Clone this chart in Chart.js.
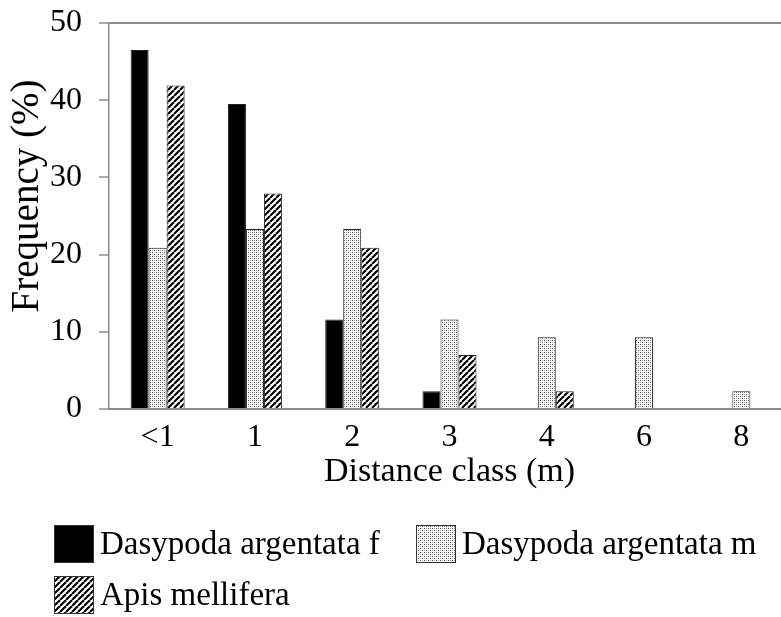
<!DOCTYPE html>
<html>
<head>
<meta charset="utf-8">
<script src="https://cdn.jsdelivr.net/npm/chart.js@4.4.1/dist/chart.umd.min.js"></script>
<style>
  html, body { margin: 0; padding: 0; background: #fff; overflow: hidden; }
  #wrap { position: relative; width: 800px; height: 617px; }
</style>
</head>
<body>
<div id="wrap"><canvas id="chart"></canvas></div>
<script>
// Distance classes (m) and frequency (%) of each group
const categories = ['<1', '1', '2', '3', '4', '6', '8'];
const seriesNames = ['Dasypoda argentata f', 'Dasypoda argentata m', 'Apis mellifera'];
const femaleValues = [46.5, 39.5, 11.6, 2.3, 0, 0, 0];
const maleValues = [20.9, 23.3, 23.3, 11.6, 9.3, 9.3, 2.3];
const apisValues = [41.9, 27.9, 20.9, 7.0, 2.3, 0, 0];
const yLabelStep = 10;

const SERIF = "'Liberation Serif', 'Times New Roman', Times, serif";
const AXIS_GRAY = '#8c8c8c';

// Fill patterns: fine stipple and diagonal hatch
function makeStipple() {
  const c = document.createElement('canvas');
  c.width = 4; c.height = 4;
  const g = c.getContext('2d');
  g.fillStyle = '#ffffff'; g.fillRect(0, 0, 4, 4);
  g.fillStyle = '#505050'; g.fillRect(0, 0, 1, 1); g.fillRect(2, 2, 1, 1);
  g.fillStyle = '#a8a8a8'; g.fillRect(2, 0, 1, 1); g.fillRect(0, 2, 1, 1);
  return g.createPattern(c, 'repeat');
}
function makeHatch() {
  const s = 6;
  const c = document.createElement('canvas');
  c.width = s; c.height = s;
  const g = c.getContext('2d');
  g.fillStyle = '#ffffff'; g.fillRect(0, 0, s, s);
  g.strokeStyle = '#000000'; g.lineWidth = 2.1;
  for (const k of [-s, 0, s]) {
    g.beginPath(); g.moveTo(k, s); g.lineTo(k + s, 0); g.stroke();
  }
  return g.createPattern(c, 'repeat');
}
const fills = ['#000000', makeStipple(), makeHatch()];

// Legend drawn below the axis title, two items on the first row
const legendSlots = [
  { x: 54, y: 525 },
  { x: 416, y: 525 },
  { x: 54, y: 576 }
];
const belowLegend = {
  id: 'belowLegend',
  afterDraw(chart) {
    const ctx = chart.ctx;
    ctx.save();
    ctx.font = '33px ' + SERIF;
    ctx.textAlign = 'left';
    ctx.textBaseline = 'middle';
    chart.data.datasets.forEach((ds, i) => {
      const s = legendSlots[i];
      ctx.fillStyle = ds.backgroundColor;
      ctx.fillRect(s.x, s.y, 40, 38);
      ctx.strokeStyle = '#333';
      ctx.lineWidth = 1;
      ctx.strokeRect(s.x + 0.5, s.y + 0.5, 39, 37);
      ctx.fillStyle = '#000';
      ctx.fillText(ds.label, s.x + 46, s.y + 20);
    });
    ctx.restore();
  }
};

// Rotated y-axis title
const yTitle = {
  id: 'yTitle',
  afterDraw(chart) {
    const ctx = chart.ctx;
    ctx.save();
    ctx.translate(28, 196);
    ctx.rotate(-Math.PI / 2);
    ctx.font = '39px ' + SERIF;
    ctx.fillStyle = '#000';
    ctx.textAlign = 'center';
    ctx.textBaseline = 'middle';
    ctx.fillText('Frequency (%)', 0, 0);
    ctx.restore();
  }
};

const seriesValues = [femaleValues, maleValues, apisValues];
const datasets = seriesNames.map((name, i) => ({
  label: name,
  data: seriesValues[i],
  backgroundColor: fills[i],
  borderColor: '#222',
  borderWidth: ctx => (ctx.raw ? 1 : 0),
  borderSkipped: 'bottom',
  barPercentage: 1,
  categoryPercentage: 0.555
}));

new Chart(document.getElementById('chart'), {
  type: 'bar',
  data: { labels: categories, datasets },
  options: {
    responsive: true,
    maintainAspectRatio: false,
    devicePixelRatio: 1,
    animation: false,
    layout: { padding: { top: 23, right: 10, bottom: 125, left: 4 } },
    plugins: {
      legend: { display: false },
      tooltip: { enabled: false }
    },
    scales: {
      x: {
        type: 'category',
        offset: true,
        grid: { display: false, drawTicks: false },
        border: { display: true, color: AXIS_GRAY, width: 2 },
        ticks: { color: '#000', font: { family: SERIF, size: 32 }, padding: 9, maxRotation: 0, autoSkip: false },
        title: { display: true, text: 'Distance class (m)', color: '#000', font: { family: SERIF, size: 34 }, padding: 0 },
        afterFit(scale) { scale.height = 83; }
      },
      y: {
        min: 0,
        max: 50,
        ticks: {
          stepSize: 5,
          color: '#000',
          font: { family: SERIF, size: 32 },
          padding: 17,
          callback: v => (v % yLabelStep === 0 ? v : '')
        },
        grid: {
          color: ctx => (ctx.tick && ctx.tick.value === 50 ? AXIS_GRAY : 'rgba(0,0,0,0)'),
          lineWidth: 2,
          drawTicks: true,
          tickLength: 10,
          tickColor: AXIS_GRAY,
          tickWidth: 1.5
        },
        border: { display: true, color: AXIS_GRAY, width: 1.5 },
        afterFit(scale) {
          scale.width = 105;
          scale.paddingTop = 0;
          scale.paddingBottom = 0;
        }
      }
    }
  },
  plugins: [belowLegend, yTitle]
});
</script>
</body>
</html>
